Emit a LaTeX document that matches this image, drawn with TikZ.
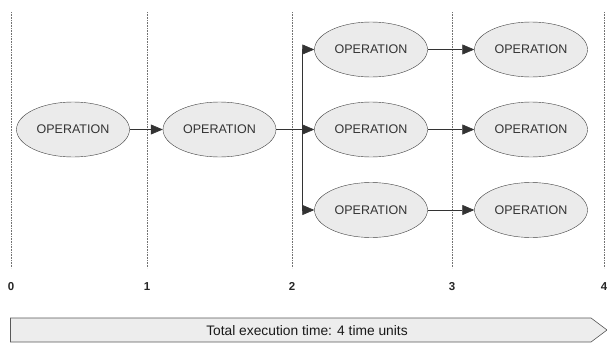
\documentclass[tikz,border=0pt]{standalone}
\usepackage{fontspec}
\setmainfont{Liberation Sans}
\usetikzlibrary{arrows.meta,shapes.geometric}
\begin{document}
\begin{tikzpicture}[x=1pt,y=-1pt,
  op/.style={draw=black!75,fill=black!8,ellipse,minimum width=113pt,minimum height=55pt,inner sep=0pt,font=\fontsize{12.5}{14}\selectfont,text=black!80},
  grid/.style={draw=black!55,line width=0.7pt,dash pattern=on 1pt off 0.6pt},
  conn/.style={draw=black!80,line width=0.6pt,-{Triangle[length=12pt,width=10pt]}},
  tick/.style={font=\bfseries\fontsize{11.5}{13}\selectfont,text=black!85},
  banner/.style={draw=black!65,fill=black!7,line width=0.6pt}]
\useasboundingbox (0,0) rectangle (607,343);
% vertical grid lines
\foreach \x/\n in {11/0,147/1,292/2,452/3,604/4}{
  \coordinate (top\n) at (\x,12);
  \coordinate (bot\n) at (\x,268);
  \draw[grid] (top\n) -- (bot\n);
  \node[tick] (t\n) at (\x,286.5) {\n};
}
% operations
\node[op] (a) at (73,129.5) {OPERATION};
\node[op] (b) at (219.5,129.5) {OPERATION};
\node[op] (c1) at (371,49.5) {OPERATION};
\node[op] (c2) at (371,129.5) {OPERATION};
\node[op] (c3) at (371,210) {OPERATION};
\node[op] (d1) at (531,49.5) {OPERATION};
\node[op] (d2) at (531,129.5) {OPERATION};
\node[op] (d3) at (531,210) {OPERATION};
\coordinate (j) at (302,129.5);
\coordinate (jt) at (302,49.5);
\coordinate (jb) at (302,210);
\draw[conn] (a) -- (b);
\draw[draw=black!80,line width=0.6pt] (b) -- (j);
\draw[draw=black!80,line width=0.6pt] (jt) -- (jb);
\draw[conn] (jt) -- (c1);
\draw[conn] (j) -- (c2);
\draw[conn] (jb) -- (c3);
\draw[conn] (c1) -- (d1);
\draw[conn] (c2) -- (d2);
\draw[conn] (c3) -- (d3);
% banner
\coordinate (b1) at (10.5,318);
\coordinate (b2) at (591,318);
\coordinate (b3) at (607,330);
\coordinate (b4) at (591,342);
\coordinate (b5) at (10.5,342);
\draw[banner] (b1) -- (b2) -- (b3) -- (b4) -- (b5) -- cycle;
\node[font=\fontsize{13.8}{15}\selectfont,text=black!90] (total) at (307,330.5) {Total execution time: 4 time units};
\end{tikzpicture}
\end{document}
